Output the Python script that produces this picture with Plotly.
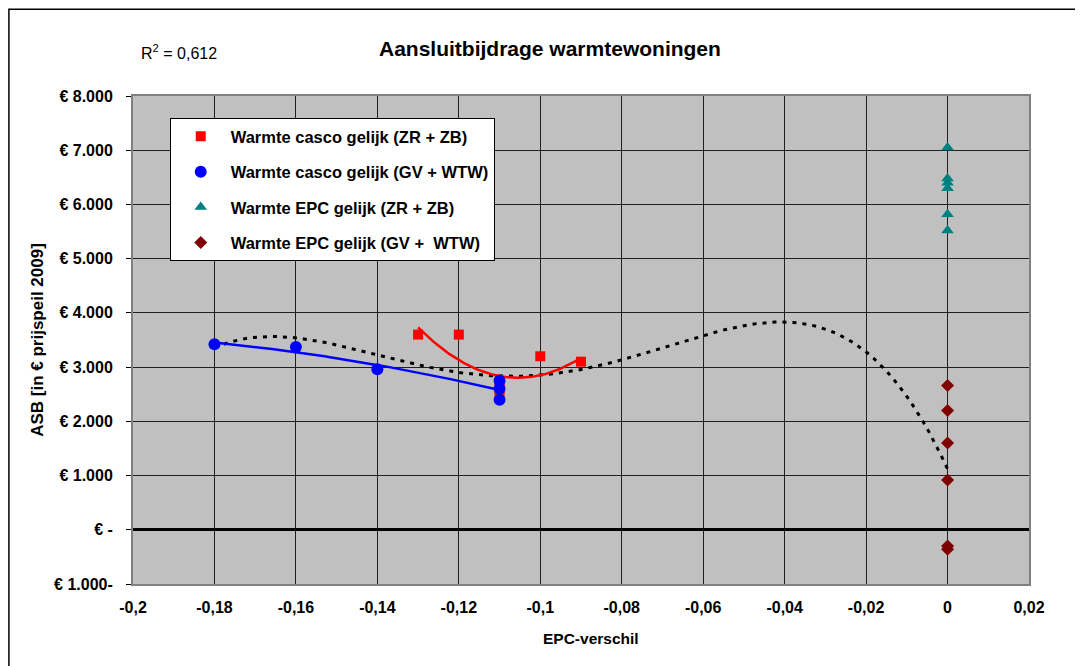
import numpy as np
import plotly.graph_objects as go

# --- data ---
casco_zr_x = [-0.13, -0.12, -0.11, -0.11, -0.11, -0.10, -0.09]
casco_zr_y = [3600, 3600, 2740, 2600, 2550, 3200, 3100]

casco_gv_x = [-0.18, -0.16, -0.14, -0.11, -0.11, -0.11]
casco_gv_y = [3420, 3370, 2960, 2750, 2600, 2400]

epc_zr_x = [0, 0, 0, 0, 0, 0]
epc_zr_y = [7050, 6480, 6400, 6300, 5820, 5520]

epc_gv_x = [0, 0, 0, 0, 0, 0]
epc_gv_y = [2660, 2200, 1600, 920, -300, -360]

x_ticks = [-0.2, -0.18, -0.16, -0.14, -0.12, -0.1, -0.08, -0.06, -0.04, -0.02, 0, 0.02]
x_labels = ["-0,2", "-0,18", "-0,16", "-0,14", "-0,12", "-0,1", "-0,08", "-0,06",
            "-0,04", "-0,02", "0", "0,02"]
y_ticks = [-1000, 0, 1000, 2000, 3000, 4000, 5000, 6000, 7000, 8000]
y_labels = ["€ 1.000-", "€ -", "€ 1.000", "€ 2.000", "€ 3.000", "€ 4.000",
            "€ 5.000", "€ 6.000", "€ 7.000", "€ 8.000"]

FONT = "Liberation Sans, Arial, sans-serif"


def trend(xs, ys, deg, n=120):
    """polynomial trendline like excel draws it"""
    c = np.polyfit(xs, ys, deg)
    xx = np.linspace(min(xs), max(xs), n)
    return xx, np.polyval(c, xx)


fig = go.Figure()

# trendlines first so markers sit on top
all_x = casco_zr_x + casco_gv_x + epc_gv_x
all_y = casco_zr_y + casco_gv_y + epc_gv_y
tx, ty = trend(all_x, all_y, 4)
fig.add_trace(go.Scatter(x=tx, y=ty, mode="lines", showlegend=False, hoverinfo="skip",
                         line=dict(color="black", width=3, dash="4px,6px")))

tx, ty = trend(casco_zr_x, casco_zr_y, 2)
fig.add_trace(go.Scatter(x=tx, y=ty, mode="lines", showlegend=False, hoverinfo="skip",
                         line=dict(color="#FF0000", width=2.5)))

tx, ty = trend(casco_gv_x, casco_gv_y, 2)
fig.add_trace(go.Scatter(x=tx, y=ty, mode="lines", showlegend=False, hoverinfo="skip",
                         line=dict(color="#0000FF", width=2.5)))

fig.add_trace(go.Scatter(x=casco_zr_x, y=casco_zr_y, mode="markers",
                         name="Warmte casco gelijk (ZR + ZB)", legendgroup="a",
                         marker=dict(symbol="square", size=10, color="#FF0000")))
fig.add_trace(go.Scatter(x=casco_gv_x, y=casco_gv_y, mode="markers",
                         name="Warmte casco gelijk (GV + WTW)", legendgroup="b",
                         marker=dict(symbol="circle", size=12, color="#0000FF")))
fig.add_trace(go.Scatter(x=epc_zr_x, y=epc_zr_y, mode="markers",
                         name="Warmte EPC gelijk (ZR + ZB)", legendgroup="c",
                         marker=dict(symbol="triangle-up", size=11, color="#008080")))
fig.add_trace(go.Scatter(x=epc_gv_x, y=epc_gv_y, mode="markers",
                         name="Warmte EPC gelijk (GV +  WTW)", legendgroup="d",
                         marker=dict(symbol="diamond", size=10, color="#800000")))

fig.update_xaxes(range=[-0.2, 0.02], tickvals=x_ticks, ticktext=x_labels,
                 showgrid=True, gridcolor="#202020", gridwidth=1,
                 zeroline=False, showline=True, linecolor="#808080", linewidth=2, mirror=True,
                 ticklabelstandoff=8,
                 tickfont=dict(family=FONT, size=16, color="black", weight="bold"))
fig.update_yaxes(range=[-1000, 8000], tickvals=y_ticks, ticktext=y_labels,
                 showgrid=True, gridcolor="#202020", gridwidth=1,
                 zeroline=True, zerolinecolor="black", zerolinewidth=3,
                 showline=True, linecolor="#808080", linewidth=2, mirror=True,
                 ticks="outside", ticklen=5, tickcolor="black", ticklabelstandoff=10,
                 tickfont=dict(family=FONT, size=16, color="black", weight="bold"),
                 title=dict(text="ASB [in € prijspeil 2009]", standoff=6,
                            font=dict(family=FONT, size=17, color="black", weight="bold")))

fig.update_layout(
    width=1083, height=666,
    margin=dict(l=125, r=62, t=88, b=90),
    paper_bgcolor="white", plot_bgcolor="#C0C0C0",
    font=dict(family=FONT, color="black"),
    legend=dict(x=0.041, y=0.955, xanchor="left", yanchor="top",
                bgcolor="white", bordercolor="black", borderwidth=1,
                traceorder="grouped", tracegroupgap=11, itemwidth=50,
                font=dict(family=FONT, size=16.5, color="black", weight="bold")),
    annotations=[
        dict(text="<b>Aansluitbijdrage warmtewoningen</b>", x=0.465, y=1.098,
             xref="paper", yref="paper", xanchor="center", yanchor="middle",
             showarrow=False, font=dict(family=FONT, size=21, color="black")),
        dict(text="R<sup>2</sup> = 0,612", x=0.051, y=1.09,
             xref="paper", yref="paper", xanchor="center", yanchor="middle",
             showarrow=False, font=dict(family=FONT, size=16, color="black")),
        # x title sits a little right of centre in the original
        dict(text="<b>EPC-verschil</b>", x=0.511, y=-0.111,
             xref="paper", yref="paper", xanchor="center", yanchor="middle",
             showarrow=False, font=dict(family=FONT, size=15.5, color="black")),
    ],
    shapes=[
        dict(type="rect", xref="paper", yref="paper",
             x0=-0.1385, x1=1.2, y0=-0.3, y1=1.178,
             line=dict(color="black", width=1.5), fillcolor="rgba(0,0,0,0)", layer="below"),
    ],
)

fig.write_html("out.html")
